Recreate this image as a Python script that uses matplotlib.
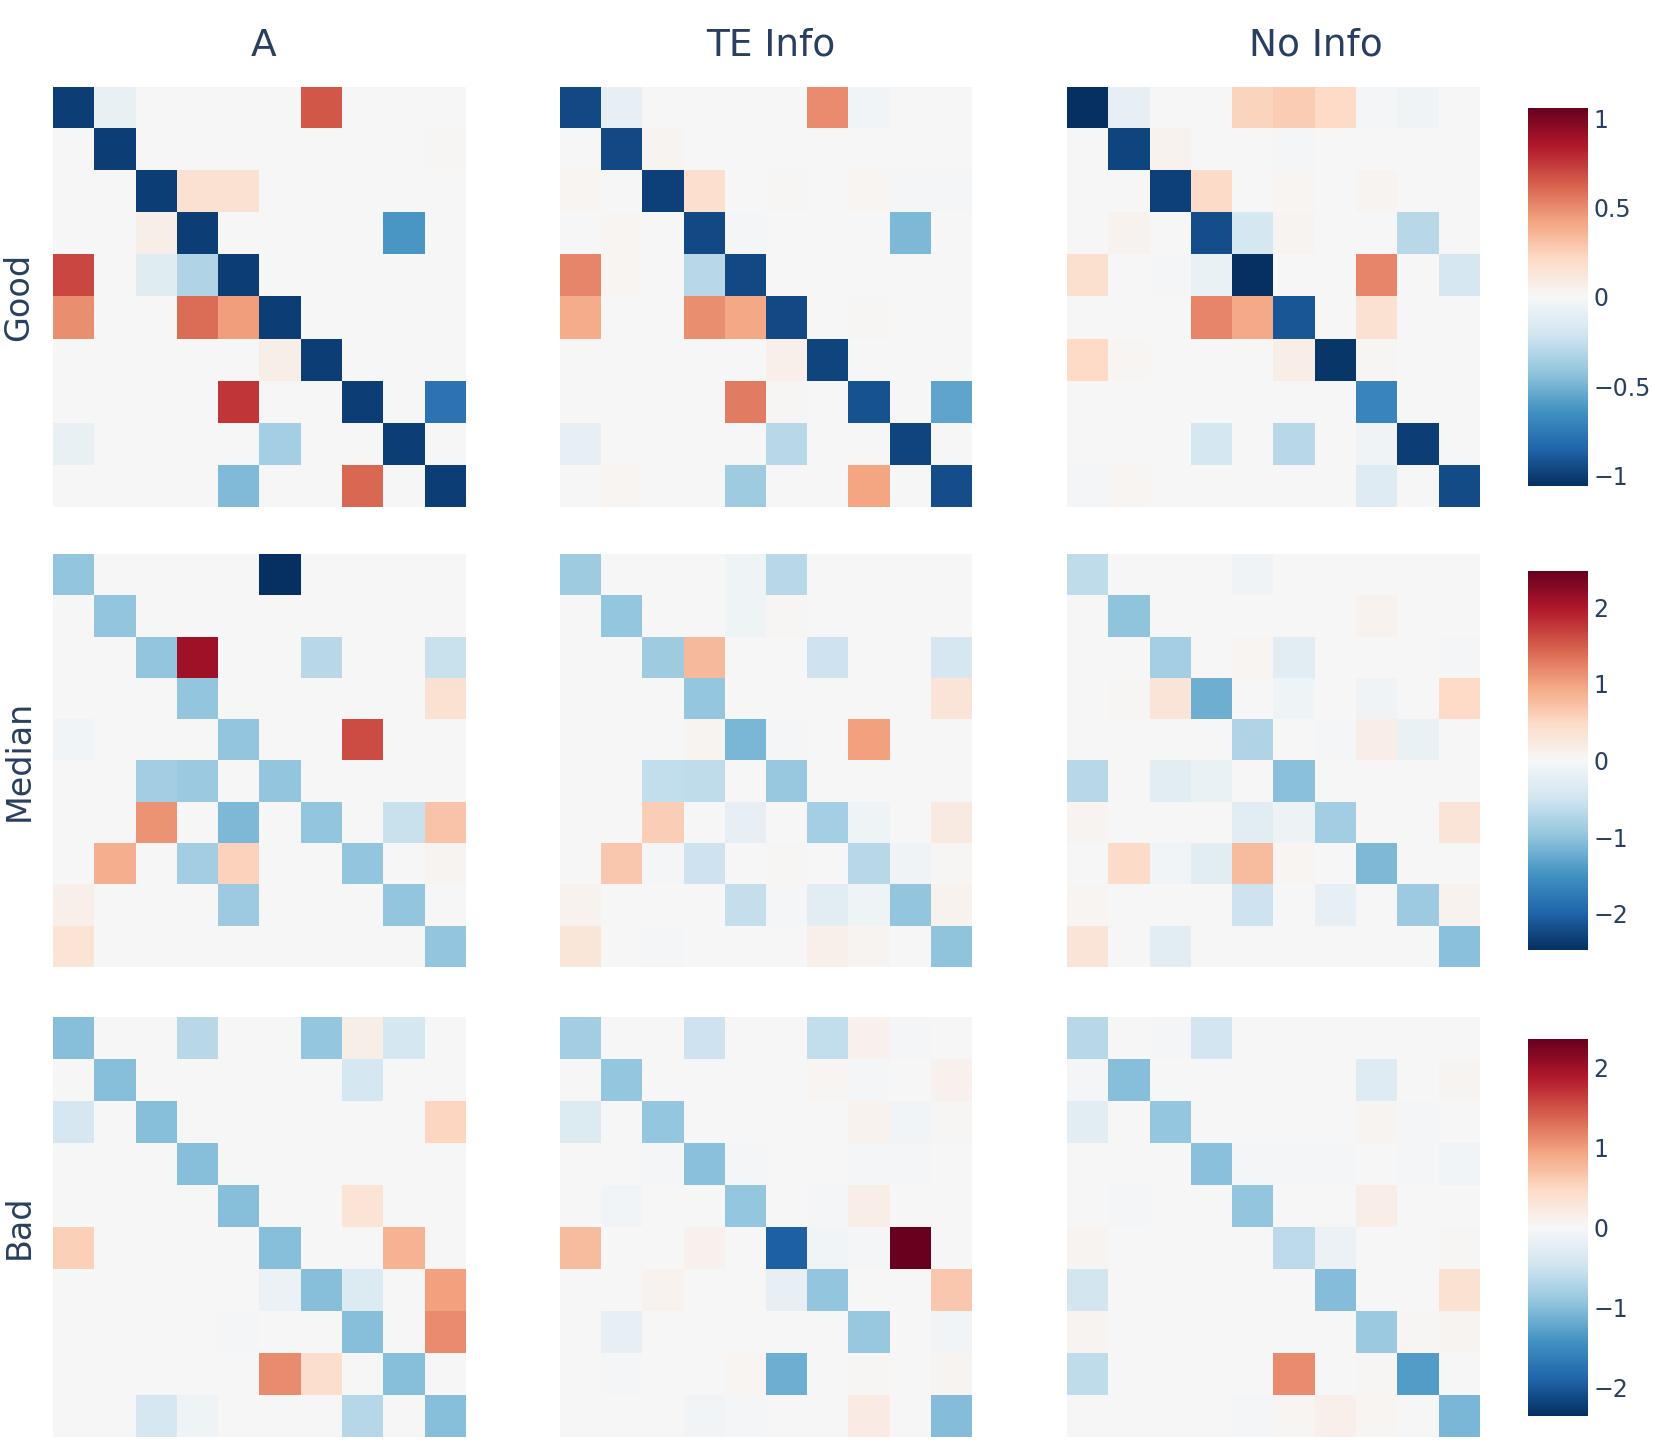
import matplotlib
matplotlib.use("Agg")
import matplotlib.pyplot as plt
import numpy as np

plt.rcParams['font.family'] = ['DejaVu Sans']

col_titles = ["A", "TE Info", "No Info"]
row_titles = ["Good", "Median", "Bad"]
row_limits = [1.06, 2.47, 2.36]
row_ticks = [[-1, -0.5, 0, 0.5, 1], [-2, -1, 0, 1, 2], [-2, -1, 0, 1, 2]]

good_a = [
    [-1.00, -0.08, 0, 0, 0, 0, 0.66, 0, 0, 0],
    [0, -1.00, 0, 0, 0, 0, 0, 0, 0, 0.01],
    [0, 0, -1.00, 0.16, 0.16, 0, 0, 0, 0, 0],
    [0, 0, 0.06, -1.00, 0, 0, 0, 0, -0.62, 0],
    [0.71, 0, -0.13, -0.32, -1.00, 0, 0, 0, 0, 0],
    [0.49, 0, 0, 0.59, 0.44, -1.00, 0, 0, 0, 0],
    [0, 0, 0, 0, 0, 0.06, -1.00, 0, 0, 0],
    [0, 0, 0, 0, 0.76, 0, 0, -1.00, 0, -0.78],
    [-0.08, 0, 0, 0, 0, -0.36, 0, 0, -1.00, 0],
    [0, 0, 0, 0, -0.47, 0, 0, 0.61, 0, -1.00],
]
good_te = [
    [-0.96, -0.09, 0, 0, 0, 0, 0.50, -0.03, 0, 0],
    [0, -0.96, 0.03, 0, 0, 0, 0.005, 0.005, 0, 0],
    [0.02, 0, -0.99, 0.18, 0, 0.01, 0, 0.02, -0.01, -0.01],
    [0, 0.02, 0, -0.96, -0.01, 0, 0, 0, -0.48, 0],
    [0.52, 0.02, 0, -0.29, -0.96, 0, 0, 0, 0, 0],
    [0.39, 0, 0, 0.49, 0.41, -0.96, 0, 0.01, 0, 0],
    [0, 0, 0, 0, 0, 0.05, -0.97, 0, 0, 0],
    [0, 0, 0, 0, 0.55, 0.01, 0, -0.92, 0, -0.56],
    [-0.09, 0, 0, 0, 0, -0.29, 0, 0, -0.97, 0],
    [0, 0.02, 0, 0, -0.38, 0, 0, 0.42, 0, -0.94],
]
good_noinfo = [
    [-1.06, -0.09, 0.005, 0, 0.24, 0.27, 0.21, -0.01, -0.04, 0],
    [0, -0.97, 0.04, 0, 0.005, -0.01, -0.005, 0, 0, 0],
    [0.005, 0, -0.99, 0.20, 0, 0.02, 0, 0.03, 0, -0.005],
    [0, 0.04, 0, -0.94, -0.19, 0.03, 0, -0.005, -0.29, 0],
    [0.17, 0, -0.02, -0.07, -1.06, 0, 0, 0.52, 0, -0.18],
    [0, 0, 0, 0.52, 0.40, -0.91, 0, 0.16, 0, 0],
    [0.21, 0.02, 0, 0, 0, 0.07, -1.03, 0.01, 0, 0],
    [0.005, 0.005, 0, 0, 0, 0, 0, -0.70, 0, 0],
    [0, 0, 0, -0.19, 0, -0.29, 0, -0.04, -1.00, 0],
    [-0.01, 0.02, 0, 0, 0, 0.005, 0, -0.14, 0, -0.95],
]

median_a = [
    [-0.98, 0, 0, 0, 0, -2.47, 0, 0, 0, 0],
    [0, -0.98, 0, 0, 0, 0, 0, 0, 0, 0],
    [0, 0, -0.98, 2.10, 0, 0, -0.69, 0, 0, -0.55],
    [0, 0, 0, -0.98, 0, 0, 0, 0, 0, 0.37],
    [-0.07, 0, 0, 0, -0.98, 0, 0, 1.61, 0, 0],
    [0, 0, -0.85, -0.92, 0, -0.98, 0, 0, 0, 0],
    [0, 0, 1.10, 0, -1.10, 0, -0.98, 0, -0.55, 0.71],
    [0, 0.89, 0, -0.86, 0.56, 0, 0, -0.98, 0, 0.06],
    [0.12, 0, 0, 0, -0.90, 0, 0, 0, -0.98, 0],
    [0.34, 0, 0, 0, 0, 0, 0, 0, 0, -0.98],
]
median_te = [
    [-0.88, 0, 0, 0, -0.10, -0.69, 0, 0, 0, 0],
    [0, -0.96, 0, 0, -0.10, 0.02, 0, 0, 0, -0.01],
    [0, 0, -0.88, 0.80, 0, 0, -0.52, 0, 0, -0.42],
    [0, -0.01, 0, -0.96, 0, 0, 0, 0, 0, 0.32],
    [0, 0, 0, 0.06, -1.13, -0.03, 0, 1.01, 0, 0],
    [0, 0, -0.60, -0.62, 0, -0.93, 0, 0, 0, 0],
    [0, 0, 0.61, 0, -0.20, 0, -0.84, -0.10, 0, 0.22],
    [0, 0.66, -0.03, -0.52, 0, 0.02, 0, -0.69, -0.08, 0.02],
    [0.08, 0, 0, 0, -0.58, -0.03, -0.27, -0.10, -0.97, 0.08],
    [0.29, 0, -0.02, 0, 0, 0, 0.13, 0.06, 0, -1.00],
]
median_noinfo = [
    [-0.62, 0, 0, 0, -0.09, 0, 0, 0, 0.01, 0],
    [0, -1.00, 0, 0, 0, 0, 0.01, 0.08, 0.01, 0],
    [0, 0, -0.83, 0, 0.05, -0.27, 0, 0, 0, -0.03],
    [0, 0.03, 0.32, -1.20, 0, -0.10, 0.01, -0.09, 0, 0.49],
    [0, 0, 0.01, 0, -0.75, 0, -0.04, 0.17, -0.17, 0],
    [-0.68, 0, -0.27, -0.17, 0, -1.04, 0, 0, 0, 0],
    [0.06, -0.01, 0, 0, -0.28, -0.12, -0.85, 0, 0, 0.32],
    [0, 0.48, -0.06, -0.27, 0.79, 0.05, 0, -1.10, 0, 0],
    [0.05, 0, 0, 0, -0.52, 0, -0.20, 0, -0.89, 0.08],
    [0.32, 0, -0.27, 0, 0.01, 0, 0, 0, 0, -1.04],
]

bad_a = [
    [-1.00, 0, 0, -0.66, 0, 0, -0.92, 0.14, -0.42, 0],
    [0, -1.00, 0, 0, 0, 0, 0, -0.42, 0, 0],
    [-0.40, 0, -1.00, 0, 0, 0, 0, 0, 0, 0.51],
    [0, 0, 0, -1.00, 0, 0, 0, 0, 0, 0],
    [0, 0, 0, 0, -1.00, 0, 0, 0.33, 0, 0],
    [0.57, 0, 0, 0, 0, -1.00, 0, 0, 0.82, 0],
    [0, 0, 0, 0, 0, -0.14, -1.00, -0.33, 0, 0.96],
    [0, 0, 0, 0, -0.03, 0, 0, -1.00, 0, 1.12],
    [0, 0, 0, 0, 0, 1.12, 0.42, 0, -1.00, 0],
    [0, 0, -0.40, -0.10, 0, 0, 0, -0.68, 0, -1.00],
]
bad_te = [
    [-0.82, 0, 0, -0.49, 0, 0, -0.58, 0.10, -0.03, 0],
    [-0.01, -0.92, 0, 0, 0, 0, 0.04, -0.04, 0, 0.10],
    [-0.33, 0, -0.92, 0, 0, 0, 0, 0.08, -0.06, 0.02],
    [0, 0, -0.02, -0.98, -0.02, 0, 0, -0.02, -0.03, 0],
    [0.005, -0.06, 0, 0, -0.92, 0, -0.02, 0.16, 0, 0],
    [0.75, 0, 0, 0.10, 0, -1.93, -0.06, -0.02, 2.35, 0],
    [0, 0, 0.08, 0, 0, -0.19, -0.94, 0, 0, 0.63],
    [0, -0.20, 0, 0, 0, 0, 0, -0.90, 0, -0.06],
    [0, -0.02, 0, 0, 0.05, -1.15, 0, 0.03, 0.01, 0.07],
    [0.005, 0, 0, -0.07, -0.05, 0, 0, 0.20, 0, -1.02],
]
bad_noinfo = [
    [-0.65, 0, -0.04, -0.45, 0, 0, 0, 0, 0, -0.01],
    [-0.02, -1.00, 0.01, 0, 0, 0, 0.01, -0.31, 0, 0.07],
    [-0.26, 0, -0.92, 0, 0, 0, 0, 0.07, -0.02, 0],
    [0, 0, 0, -0.98, -0.02, -0.03, -0.04, 0, -0.03, -0.07],
    [0.01, -0.02, 0, 0, -0.94, 0, -0.01, 0.16, 0.01, 0],
    [0.06, 0, 0, 0, 0, -0.62, -0.14, 0, 0, 0.03],
    [-0.43, 0, 0, 0, 0, 0, -1.02, 0, 0.01, 0.36],
    [0.07, 0, 0, 0, 0, 0, 0, -0.87, 0.02, 0.06],
    [-0.60, -0.01, 0, 0, 0, 1.12, 0, 0.02, -1.31, 0],
    [-0.01, 0, 0, 0, -0.03, 0.05, 0.12, 0.05, 0, -1.08],
]

grid = [
    [good_a, good_te, good_noinfo],
    [median_a, median_te, median_noinfo],
    [bad_a, bad_te, bad_noinfo],
]

W, H = 1654, 1441
text_color = "#2a3f5f"
col_x = [(53, 465), (560, 972), (1067, 1480)]
row_y = [(87, 507), (554, 967), (1017, 1437)]
title_x = [264, 771, 1316]
cbar_x = (1528, 1588)
cbar_y = [(108, 486), (571, 950), (1039, 1416)]


def fig_rect(x0, x1, y0, y1):
    return [x0 / W, 1 - y1 / H, (x1 - x0) / W, (y1 - y0) / H]


fig = plt.figure(figsize=(W / 100, H / 100), dpi=100)

for c in range(3):
    fig.text(title_x[c] / W, 1 - 46 / H, col_titles[c], fontsize=27,
             color=text_color, ha="center", va="center")

for r in range(3):
    vlim = row_limits[r]
    im = None
    for c in range(3):
        ax = fig.add_axes(fig_rect(*col_x[c], *row_y[r]))
        im = ax.imshow(np.array(grid[r][c]), cmap="RdBu_r", vmin=-vlim, vmax=vlim,
                       aspect="auto", interpolation="nearest")
        ax.set_axis_off()
    fig.text(19 / W, 1 - (sum(row_y[r]) / 2) / H, row_titles[r], rotation=90,
             fontsize=24, color=text_color, ha="center", va="center")
    cax = fig.add_axes(fig_rect(*cbar_x, *cbar_y[r]))
    cb = fig.colorbar(im, cax=cax, ticks=row_ticks[r])
    cb.outline.set_visible(False)
    cb.ax.tick_params(length=0, pad=4, labelsize=17, colors=text_color)
    cb.ax.set_yticklabels([f"{t:g}".replace("-", "\u2212") for t in row_ticks[r]])

fig.savefig("out.png", dpi=100)
